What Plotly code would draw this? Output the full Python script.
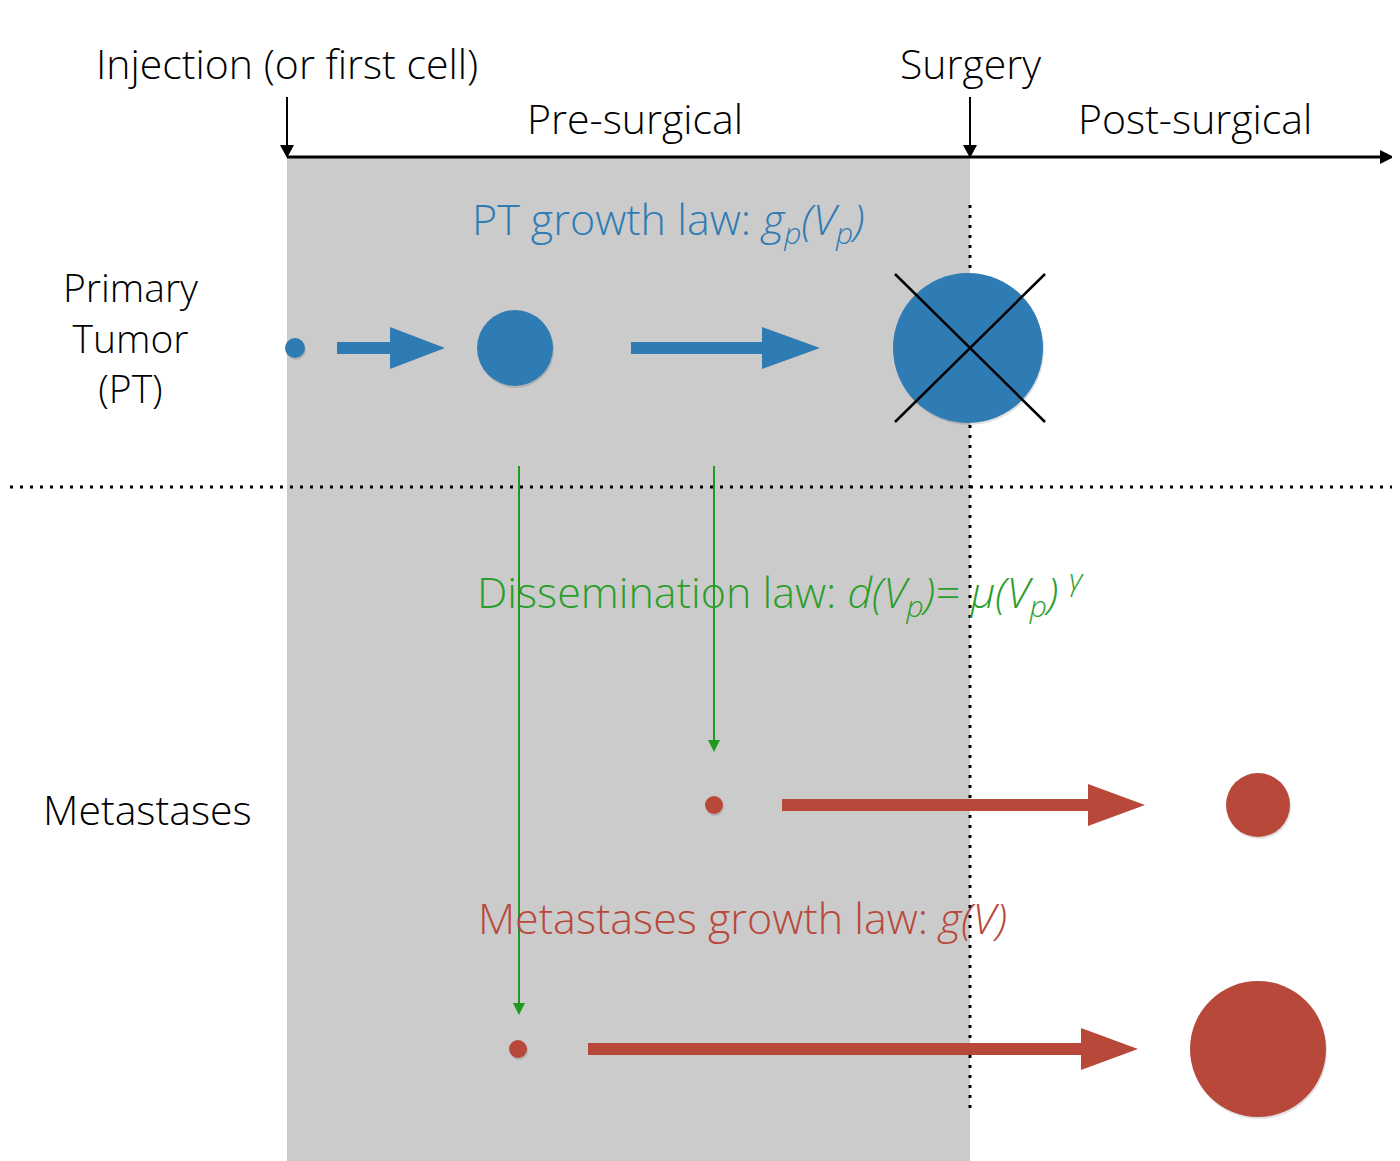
import plotly.graph_objects as go

W, H = 1400, 1161
PAD = 8  # page body margin in the browser; the figure is drawn from (8, 8)

# timeline events and phases
event_labels = ["Injection (or first cell)", "Surgery"]
event_x = [287, 970]
phase_labels = ["Pre-surgical", "Post-surgical"]
phase_x = [635, 1195]

# row labels
row_labels = ["Primary<br>Tumor<br>(PT)", "Metastases"]
row_label_x = [130, 147]
row_label_y = [337, 809]
row_label_size = [39, 41]

# primary tumor sizes along time
pt_x = [295, 515, 968]
pt_y = [348, 348, 348]
pt_r = [10, 38, 75]
pt_arrows = [(337, 445), (631, 820)]
pt_row_y = 348

# metastases: emission point, radius at birth, final radius
met_x = [714, 518]
met_y = [805, 1049]
met_r0 = [9, 9]
met_final_x = [1258, 1258]
met_r1 = [32, 68]
met_arrows = [(782, 1145), (588, 1138)]

# dissemination (green) arrows
diss_x = [519, 714]
diss_y0 = [466, 466]
diss_y1 = [1015, 752]

laws = ["PT growth law: <i>g<sub>p</sub>(V<sub>p</sub>)</i>",
        "Dissemination law: <i>d(V<sub>p</sub>)= μ(V<sub>p</sub>)</i> <sup><i>γ</i></sup>",
        "Metastases growth law: <i>g(V)</i>"]
law_x = [668, 780, 742]
law_y = [221, 592, 917]

BLUE = "#2f7cb4"
RED = "#b8483a"
GREEN = "#1f9a1f"
GRAY = "#cbcbcb"
FONT = "Open Sans"

fig = go.Figure()
shapes = []
ann = []

# pre-surgical grey band
shapes.append(dict(type="rect", x0=event_x[0], x1=event_x[1], y0=157, y1=H,
                   fillcolor=GRAY, line=dict(width=0), layer="below"))

# timeline
shapes.append(dict(type="line", x0=event_x[0], x1=1385, y0=157, y1=157,
                   line=dict(color="black", width=3)))
shapes.append(dict(type="path", path="M 1380 150 L 1394 157 L 1380 164 Z",
                   fillcolor="black", line=dict(width=0)))
for ex, lab in zip(event_x, event_labels):
    shapes.append(dict(type="line", x0=ex, x1=ex, y0=97, y1=148,
                       line=dict(color="black", width=2)))
    shapes.append(dict(type="path",
                       path=f"M {ex-7} 145 L {ex+7} 145 L {ex} 158 Z",
                       fillcolor="black", line=dict(width=0)))
    ann.append(dict(x=ex, y=63, text=lab, font=dict(size=41, color="black")))
for px, lab in zip(phase_x, phase_labels):
    ann.append(dict(x=px, y=118, text=lab, font=dict(size=41, color="black")))

# dotted separators
shapes.append(dict(type="line", x0=0, x1=W, y0=487, y1=487,
                   line=dict(color="black", width=3, dash="3px,7px")))
shapes.append(dict(type="line", x0=event_x[1], x1=event_x[1], y0=205, y1=1112,
                   line=dict(color="black", width=3, dash="3px,7px")))

for lab, lx, ly, sz in zip(row_labels, row_label_x, row_label_y, row_label_size):
    ann.append(dict(x=lx, y=ly, text=lab, font=dict(size=sz, color="black")))


def block_arrow(x0, x1, y, color, half_shaft=6, head_len=57, half_head=21):
    xs = x1 - head_len
    return dict(type="path",
                path=(f"M {x0} {y-half_shaft} L {xs} {y-half_shaft} L {xs} {y-half_head} "
                      f"L {x1} {y} L {xs} {y+half_head} L {xs} {y+half_shaft} "
                      f"L {x0} {y+half_shaft} Z"),
                fillcolor=color, line=dict(width=0))


def circle(cx, cy, r, color):
    return [dict(type="circle", x0=cx - r + 1, x1=cx + r + 1, y0=cy - r + 2, y1=cy + r + 2,
                 fillcolor="rgba(0,0,0,0.12)", line=dict(width=0)),
            dict(type="circle", x0=cx - r, x1=cx + r, y0=cy - r, y1=cy + r,
                 fillcolor=color, line=dict(width=0))]


# primary tumor
for cx, cy, r in zip(pt_x, pt_y, pt_r):
    shapes += circle(cx, cy, r, BLUE)
shapes.append(block_arrow(*pt_arrows[0], pt_row_y, BLUE, head_len=55))
shapes.append(block_arrow(*pt_arrows[1], pt_row_y, BLUE, head_len=58))

# cross on removed tumor
cx, cy, r = pt_x[2], pt_y[2], pt_r[2]
for sgn in (1, -1):
    shapes.append(dict(type="line", x0=cx - r + 2, x1=cx + r + 2,
                       y0=cy - sgn * (r - 1), y1=cy + sgn * (r - 1),
                       line=dict(color="black", width=2.5)))

# metastases
for mx, my, r0, fx, r1, (a0, a1) in zip(met_x, met_y, met_r0, met_final_x, met_r1, met_arrows):
    shapes += circle(mx, my, r0, RED)
    shapes.append(block_arrow(a0, a1, my, RED))
    shapes += circle(fx, my, r1, RED)

# dissemination arrows
for dx, y0, y1 in zip(diss_x, diss_y0, diss_y1):
    shapes.append(dict(type="line", x0=dx, x1=dx, y0=y0, y1=y1 - 8,
                       line=dict(color=GREEN, width=2)))
    shapes.append(dict(type="path",
                       path=f"M {dx-6} {y1-12} L {dx+6} {y1-12} L {dx} {y1} Z",
                       fillcolor=GREEN, line=dict(width=0)))

# law texts
law_colors = [BLUE, "#2a9e2a", RED]
for t, lx, ly, c in zip(laws, law_x, law_y, law_colors):
    ann.append(dict(x=lx, y=ly, text=t, font=dict(size=43, color=c)))

for a in ann:
    a.update(xref="x", yref="y", showarrow=False, xanchor="center", yanchor="middle")
    a["font"]["family"] = FONT
    a["font"]["weight"] = 300

fig.update_layout(
    width=W - PAD, height=H - PAD,
    margin=dict(l=0, r=0, t=0, b=0),
    paper_bgcolor="white", plot_bgcolor="white",
    xaxis=dict(range=[PAD, W], visible=False, fixedrange=True),
    yaxis=dict(range=[H, PAD], visible=False, fixedrange=True),
    shapes=shapes, annotations=ann, showlegend=False,
)
fig.write_html("out.html")
